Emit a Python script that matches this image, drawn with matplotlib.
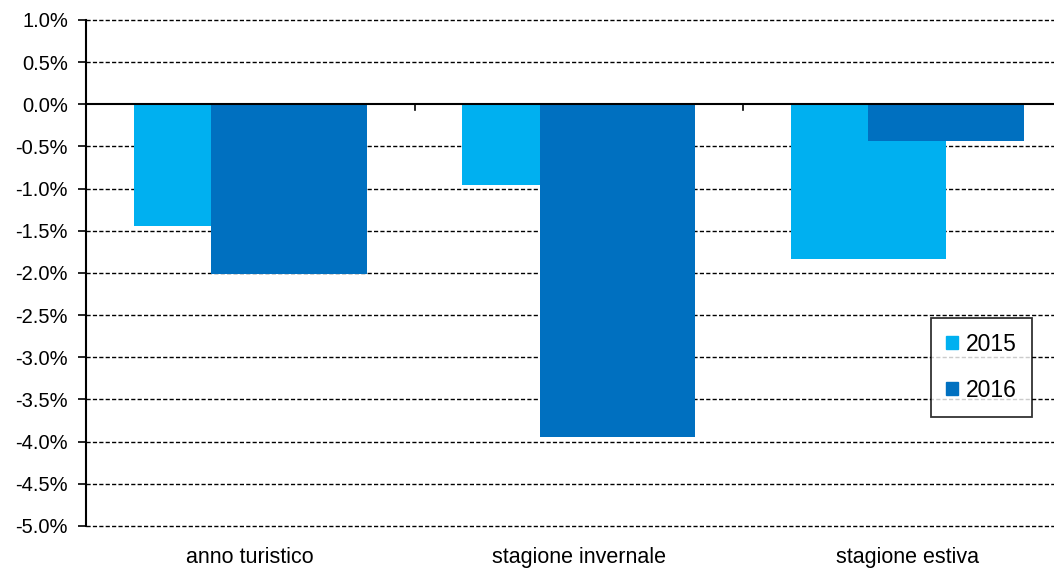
import numpy as np
from matplotlib import pyplot as plt
from matplotlib.patches import Patch

plt.rcParams['font.family'] = ['Liberation Sans', 'DejaVu Sans']

categories = ['anno turistico', 'stagione invernale', 'stagione estiva']
years = ['2015', '2016']
values_2015 = [-1.44, -0.96, -1.83]
values_2016 = [-2.01, -3.95, -0.43]
colors = ['#00B0F0', '#0070C0']

fig = plt.figure(figsize=(10.54, 5.69), dpi=100)
ax = fig.add_axes([0.0816, 0.0756, 0.935, 0.8893])

x = np.arange(len(categories))
width = 0.472
shift = 0.118
ax.bar(x - shift, values_2015, width, color=colors[0], zorder=2)
ax.bar(x + shift, values_2016, width, color=colors[1], zorder=3)

ax.set_xlim(-0.5, 2.5)
ax.set_ylim(-5.0, 1.0)
yticks = np.arange(-5.0, 1.01, 0.5)
ax.set_yticks(yticks)
ax.set_yticklabels(['{:.1f}%'.format(v) for v in yticks], fontsize=14.5)
for v in yticks:
    if abs(v) > 1e-9:
        ax.axhline(v, color='black', lw=1, ls=(0, (3, 1.6)), zorder=1, clip_on=False)
ax.axhline(0, color='black', lw=1.5, zorder=4)

# category labels at the bottom, separators hanging from the zero line
ax.set_xticks([])
for i, c in enumerate(categories):
    ax.text(i, -5.25, c, ha='center', va='top', fontsize=15.5)
for sep in [0.5, 1.5]:
    ax.plot([sep, sep], [0, -0.07], color='black', lw=1.2, zorder=4)

for s in ['top', 'right', 'bottom']:
    ax.spines[s].set_visible(False)
ax.spines['left'].set_linewidth(1.5)
ax.tick_params(axis='y', length=6, width=1.2, pad=7)

handles = [Patch(color=colors[0], label=years[0]), Patch(color=colors[1], label=years[1])]
leg = ax.legend(handles=handles, loc='upper left', bbox_to_anchor=(0.8575, 0.411),
                fontsize=16.5, frameon=True, fancybox=False, edgecolor='black',
                handlelength=0.52, handleheight=0.52, handletextpad=0.35,
                labelspacing=1.0, borderpad=0.65, borderaxespad=0)
leg.get_frame().set_linewidth(1.3)

plt.savefig('out.png', dpi=100)
